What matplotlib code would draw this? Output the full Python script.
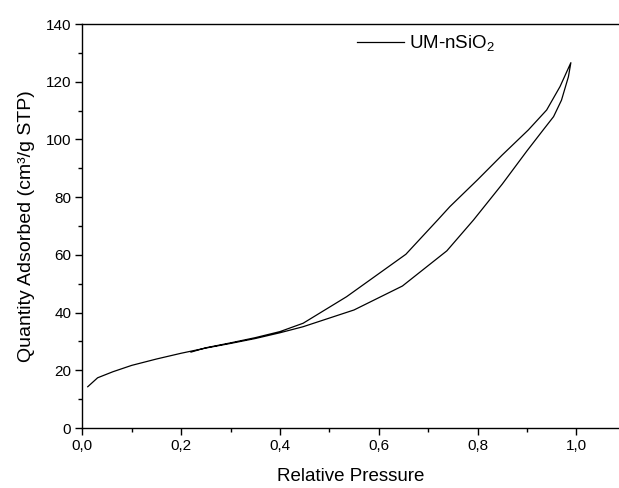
import numpy as np
import matplotlib.pyplot as plt
from matplotlib.ticker import MultipleLocator

plt.rcParams['font.family'] = ['Liberation Sans', 'DejaVu Sans']
plt.rcParams['mathtext.fontset'] = 'custom'
plt.rcParams['mathtext.rm'] = 'Liberation Sans'

"""
Data
"""
# adsorption branch (lower)
p_ads = [0.011, 0.031, 0.062, 0.10, 0.15, 0.20, 0.25, 0.30, 0.35, 0.40, 0.447,
         0.55, 0.648, 0.738, 0.792, 0.85, 0.90, 0.933, 0.954, 0.97, 0.984, 0.989]
q_ads = [14.3, 17.4, 19.5, 21.7, 23.9, 25.9, 27.7, 29.3, 31.0, 33.0, 35.1,
         40.9, 49.2, 61.4, 72.1, 84.5, 96.0, 103.3, 107.9, 113.6, 121.7, 126.6]

# desorption branch (upper)
p_des = [0.989, 0.967, 0.94, 0.903, 0.85, 0.80, 0.744, 0.72, 0.655, 0.535,
         0.447, 0.40, 0.35, 0.30, 0.25, 0.22]
q_des = [126.6, 118.3, 110.2, 103.3, 94.6, 86.0, 76.7, 72.2, 60.2, 45.5,
         36.3, 33.4, 31.3, 29.5, 27.8, 26.3]

xticks = [0.0, 0.2, 0.4, 0.6, 0.8, 1.0]
xticklabels = ["0,0", "0,2", "0,4", "0,6", "0,8", "1,0"]
yticks = [0, 20, 40, 60, 80, 100, 120, 140]

"""
Plot
"""
fig = plt.figure(figsize=(6.19, 4.88), dpi=100)
ax = fig.add_axes([82.3/619, 60/488, 1 - 82.3/619, 404/488])

p = np.concatenate([p_ads, p_des])
q = np.concatenate([q_ads, q_des])
ax.plot(p, q, color='black', lw=0.9, label=r'UM-nSiO$_\mathregular{2}$')

ax.set_xlim(0, (619 - 82.3)/494)
ax.set_ylim(0, 140)
ax.set_xticks(xticks)
ax.set_xticklabels(xticklabels)
ax.set_yticks(yticks)
ax.xaxis.set_minor_locator(MultipleLocator(0.1))
ax.yaxis.set_minor_locator(MultipleLocator(10))
ax.tick_params(which='major', direction='out', length=5, width=1, labelsize=11, pad=3)
ax.tick_params(which='minor', direction='out', length=3, width=1)
ax.spines['right'].set_visible(False)
for s in ['left', 'bottom', 'top']:
    ax.spines[s].set_linewidth(1.0)

ax.set_xlabel("Relative Pressure", fontsize=13.5, labelpad=11)
ax.set_ylabel("Quantity Adsorbed (cm³/g STP)", fontsize=14, labelpad=8)

ax.legend(loc='center left', bbox_to_anchor=(0.48, 0.95), frameon=False,
          fontsize=13.5, handlelength=2.5, handletextpad=0.3)

fig.savefig("out.png", dpi=100)
